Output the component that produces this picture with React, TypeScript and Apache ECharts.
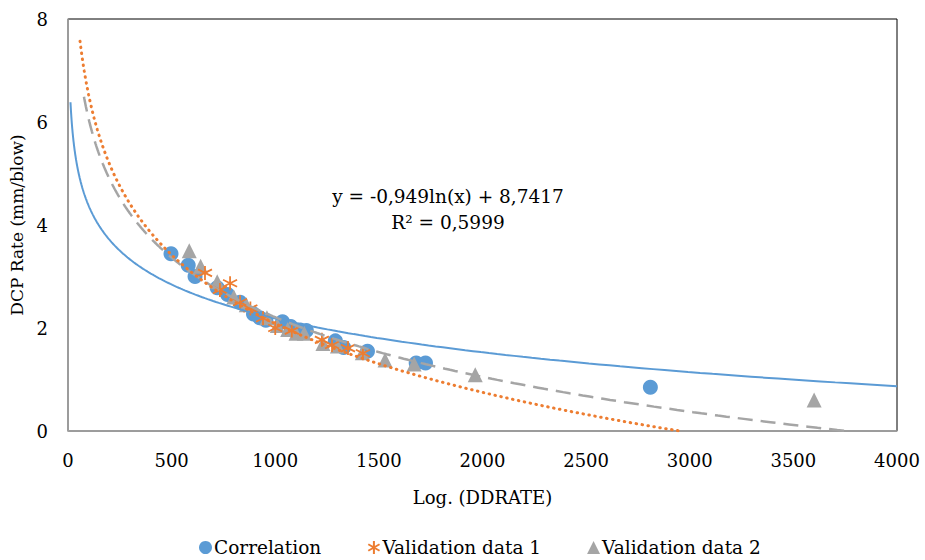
import React, { useEffect, useRef } from "react";
import * as echarts from "echarts";

const correlation: [number, number][] = [
  [497, 3.44], [580, 3.22], [613, 3.0], [720, 2.78], [770, 2.65], [830, 2.5],
  [895, 2.27], [925, 2.2], [955, 2.15], [1035, 2.12], [1075, 2.03], [1120, 1.96],
  [1150, 1.95], [1290, 1.75], [1330, 1.62], [1445, 1.55], [1680, 1.32], [1725, 1.32],
  [2810, 0.85],
];
const validation1: [number, number][] = [
  [661, 3.07], [733, 2.74], [782, 2.87], [830, 2.5], [880, 2.38], [941, 2.19],
  [1000, 2.0], [1080, 1.95], [1225, 1.77], [1274, 1.67], [1351, 1.61], [1423, 1.51],
];
const validation2: [number, number][] = [
  [585, 3.5], [640, 3.2], [720, 2.9], [800, 2.6], [860, 2.45], [960, 2.2],
  [1010, 2.05], [1060, 1.97], [1100, 1.9], [1140, 1.9], [1230, 1.7], [1300, 1.65],
  [1420, 1.52], [1530, 1.38], [1670, 1.3], [1965, 1.09], [3600, 0.6],
];

// logarithmic trendlines y = a ln(x) + b and their x ranges
const trendCorr = { a: -0.949, b: 8.7417, x0: 12, x1: 4000 };
const trendVal1 = { a: -1.926, b: 15.39, x0: 58, x1: 2960 };
const trendVal2 = { a: -1.67, b: 13.745, x0: 77, x1: 3760 };

const equationLines = ["y = -0,949ln(x) + 8,7417", "R² = 0,5999"];

function trend(t: { a: number; b: number; x0: number; x1: number }) {
  const pts: [number, number][] = [];
  const n = 300;
  const l0 = Math.log(t.x0), l1 = Math.log(t.x1);
  for (let i = 0; i <= n; i++) {
    const x = Math.exp(l0 + ((l1 - l0) * i) / n);
    pts.push([x, t.a * Math.log(x) + t.b]);
  }
  return pts;
}

const FONT = "DejaVu Serif";
const BLUE = "#5B9BD5";
const ORANGE = "#ED7D31";
const GRAY = "#A5A5A5";
const ASTERISK =
  "path://M0,-10 L0,10 M-8.66,-5 L8.66,5 M-8.66,5 L8.66,-5";

export default function App() {
  const ref = useRef<HTMLDivElement>(null);
  useEffect(() => {
    if (!ref.current) return;
    const chart = echarts.init(ref.current, undefined, { renderer: "svg" });
    chart.setOption({
      animation: false,
      backgroundColor: "#fff",
      textStyle: { fontFamily: FONT },
      grid: {
        left: 68, right: 28, top: 19, bottom: 129,
        show: true, borderColor: "#000", borderWidth: 1,
      },
      xAxis: {
        type: "value", min: 0, max: 4000, interval: 500,
        name: "Log. (DDRATE)", nameLocation: "middle", nameGap: 57,
        nameTextStyle: { fontFamily: FONT, fontSize: 18, color: "#000" },
        axisLine: { show: true, lineStyle: { color: "#A6A6A6", width: 1.5 } },
        axisTick: { show: false },
        splitLine: { show: false },
        axisLabel: {
          fontFamily: FONT, fontSize: 18, color: "#000", margin: 20,
          formatter: (v: number) => String(v),
        },
      },
      yAxis: {
        type: "value", min: 0, max: 8, interval: 2,
        name: "DCP Rate (mm/blow)", nameLocation: "middle", nameGap: 42,
        nameTextStyle: { fontFamily: FONT, fontSize: 17, color: "#000" },
        axisLine: { show: true, lineStyle: { color: "#A6A6A6", width: 1.5 } },
        axisTick: { show: false },
        splitLine: { show: false },
        axisLabel: {
          fontFamily: FONT, fontSize: 18, color: "#000", margin: 20,
          formatter: (v: number) => String(v),
        },
      },
      legend: {
        top: 533, left: 194,
        itemWidth: 13, itemHeight: 13, itemGap: 46,
        textStyle: { fontFamily: FONT, fontSize: 18.5, color: "#000", padding: [0, 0, 0, -3] },
        data: [
          { name: "Correlation", icon: "circle" },
          { name: "Validation data 1", icon: ASTERISK },
          { name: "Validation data 2", icon: "triangle" },
        ],
      },
      graphic: equationLines.map((t, i) => ({
        type: "text", x: 448, y: 196 + i * 26,
        style: {
          text: t, fontFamily: FONT, fontSize: 18.5, fill: "#000",
          align: "center", verticalAlign: "middle",
        },
        z: 100,
      })),
      series: [
        {
          name: "Correlation", type: "scatter", data: correlation,
          symbol: "circle", symbolSize: 15,
          itemStyle: { color: BLUE, opacity: 1 }, z: 2,
        },
        {
          name: "Validation data 2", type: "scatter", data: validation2,
          symbol: "triangle", symbolSize: 15,
          itemStyle: { color: GRAY, opacity: 1 }, z: 3,
        },
        {
          name: "Validation data 1", type: "scatter", data: validation1,
          symbol: ASTERISK, symbolSize: 14,
          itemStyle: { color: ORANGE, borderColor: ORANGE, borderWidth: 1.8, opacity: 1 }, z: 4,
        },
        {
          name: "trendCorr", type: "line", data: trend(trendCorr), showSymbol: false,
          lineStyle: { color: BLUE, width: 2 }, z: 5, silent: true,
        },
        {
          name: "trendVal1", type: "line", data: trend(trendVal1), showSymbol: false,
          lineStyle: { color: ORANGE, width: 3, type: [0.5, 5.5], cap: "round" }, z: 6, silent: true,
        },
        {
          name: "trendVal2", type: "line", data: trend(trendVal2), showSymbol: false,
          lineStyle: { color: GRAY, width: 2.5, type: [15, 8] }, z: 5, silent: true,
        },
      ],
    });
    return () => chart.dispose();
  }, []);
  return <div ref={ref} style={{ width: 925, height: 560, position: "absolute", left: 0, top: 0 }} />;
}
